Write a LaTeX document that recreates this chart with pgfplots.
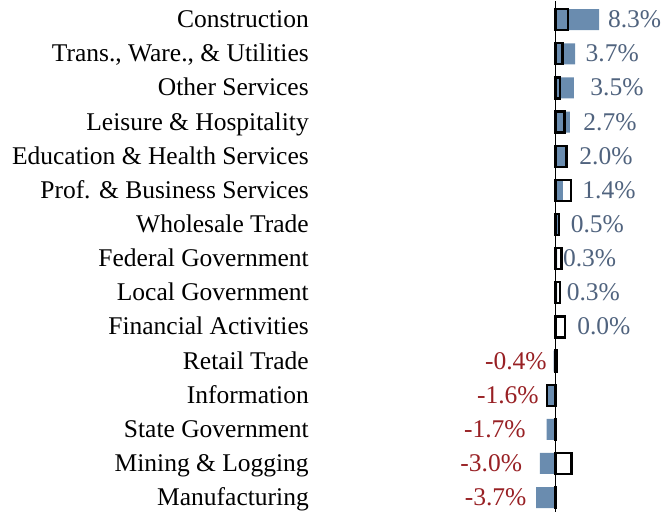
\documentclass[border=0pt]{standalone}
\usepackage{pgfplots}
\pgfplotsset{compat=1.18}
\usepackage{pgfplotstable}
\usepackage{fontspec}
\setmainfont{Liberation Serif}
\definecolor{barblue}{RGB}{106,140,175}
\definecolor{poscol}{RGB}{80,99,126}
\definecolor{negcol}{RGB}{152,32,36}
\newcommand{\lblfont}{\fontsize{25.5bp}{30bp}\selectfont}

% y: row position (15 = top), cur: filled bar, prev: outlined box
\pgfplotstableread{
y  cur  prev
15  8.3  2.4
14  3.7  1.3
13  3.5  0.8
12  2.7  1.7
11  2.0  2.1
10  1.4  2.9
9   0.5  0.7
8   0.3  1.1
7   0.3  0.8
6   0.0  1.8
5  -0.4  0.2
4  -1.6 -1.6
3  -1.7  0.1
2  -3.0  3.0
1  -3.7  0.1
}\datatable

\begin{document}
\begin{tikzpicture}
\begin{axis}[
  scale only axis,
  width=351bp, height=511bp,
  xmin=-46.42, xmax=20.44,
  ymin=0.59, ymax=15.556,
  clip=false,
  axis line style={draw=none},
  major tick length=0pt,
  xtick=\empty,
  extra x ticks={0},
  extra x tick labels={},
  extra x tick style={grid=major, major grid style={black, line width=1.3bp}},
  ytick={1,...,15},
  yticklabels={Manufacturing, Mining \& Logging, State Government, Information, Retail Trade, Financial Activities, Local Government, Federal Government, Wholesale Trade, Prof. \& Business Services, Education \& Health Services, Leisure \& Hospitality, Other Services, {Trans., Ware., \& Utilities}, Construction},
  yticklabel style={font=\lblfont, inner sep=0pt, anchor=base east, xshift=-3bp, yshift=-8bp, text=black},
  xbar, bar width=0.615, bar shift=0pt,
]
\addplot[draw=none, fill=barblue] table[x=cur, y=y] {\datatable};
\addplot[draw=black, fill=none, line width=2.3bp] table[x=prev, y=y] {\datatable};

\begin{scope}[every node/.style={font=\lblfont, inner sep=0pt, yshift=-8bp}]
\node[anchor=base west, text=poscol] at (axis cs:9.96,15) {8.3\%};
\node[anchor=base west, text=poscol] at (axis cs:5.7,14) {3.7\%};
\node[anchor=base west, text=poscol] at (axis cs:6.6,13) {3.5\%};
\node[anchor=base west, text=poscol] at (axis cs:5.26,12) {2.7\%};
\node[anchor=base west, text=poscol] at (axis cs:4.5,11) {2.0\%};
\node[anchor=base west, text=poscol] at (axis cs:5.07,10) {1.4\%};
\node[anchor=base west, text=poscol] at (axis cs:2.86,9) {0.5\%};
\node[anchor=base west, text=poscol] at (axis cs:1.39,8) {0.3\%};
\node[anchor=base west, text=poscol] at (axis cs:2.1,7) {0.3\%};
\node[anchor=base west, text=poscol] at (axis cs:4.1,6) {0.0\%};
\node[anchor=base east, text=negcol] at (axis cs:-1.66,5) {-0.4\%};
\node[anchor=base east, text=negcol] at (axis cs:-3.18,4) {-1.6\%};
\node[anchor=base east, text=negcol] at (axis cs:-5.66,3) {-1.7\%};
\node[anchor=base east, text=negcol] at (axis cs:-6.36,2) {-3.0\%};
\node[anchor=base east, text=negcol] at (axis cs:-5.52,1) {-3.7\%};
\end{scope}
\end{axis}
\path (current axis.south east) ++(-663bp,0) rectangle (current axis.north east);
\end{tikzpicture}
\end{document}
